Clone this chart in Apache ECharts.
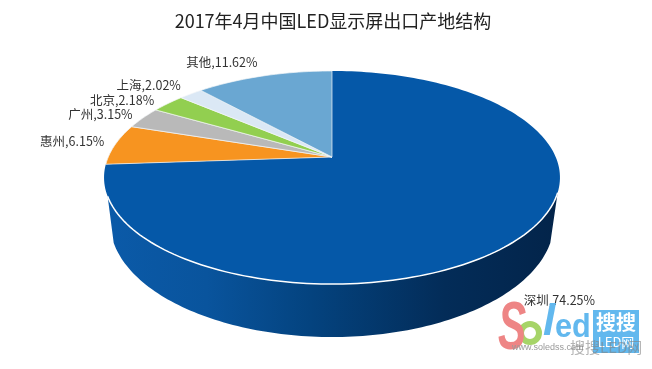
<!DOCTYPE html>
<html>
<head>
<meta charset="utf-8">
<style>html,body{margin:0;padding:0;background:#fff}#c{width:652px;height:369px}</style>
<script src="https://cdn.jsdelivr.net/npm/echarts@6/dist/echarts.min.js"></script>
</head>
<body>
<div id="c"></div>
<script>
// Data, clockwise from twelve o'clock
const categories = ['深圳', '惠州', '广州', '北京', '上海', '其他'];
const shares = [74.25, 6.15, 3.15, 2.18, 2.02, 11.62];
const sliceColors = ['#0558a8', '#f79420', '#b9b9b9', '#92cf50', '#dbe8f5', '#6aa7d2'];
const titleText = '2017年4月中国LED显示屏出口产地结构';

// Label boxes relative to each slice's mid-rim point
const labelShift = [[43, 60], [-43, -3], [-42, -4], [-47, -3], [-42, -9], [-42, -14]];

const FONT = '"Noto Sans CJK SC", "Noto Sans", sans-serif';
const total = shares.reduce((a, b) => a + b, 0);
const apex = [332, 157];
const A = 223.7, B = 102.6, K = 0.1925;
const wallFrom = 109, wallTo = 251;
const lower = { x: 332, y: 222, rx: 222, ry: 115, a: 100.5 };

function sstep(a, b, x) { const t = Math.min(1, Math.max(0, (x - a) / (b - a))); return t * t * (3 - 2 * t); }
// clockwise degrees from top -> projected point on the tilted disc
function rim(deg) {
  let d = deg;
  const ccw = 360 - deg;
  if (ccw > 0 && ccw < 180) {
    d = deg - 3 * sstep(50, 60, ccw) * (1 - sstep(95, 130, ccw));
  }
  const r = d * Math.PI / 180;
  const u = Math.sin(r), v = -Math.cos(r), w = 1 - K * v;
  return [apex[0] + A * u / w, apex[1] + B * v / w];
}
function arc(from, to) {
  const pts = [], n = Math.max(2, Math.ceil(Math.abs(to - from) / 1.5));
  for (let i = 0; i <= n; i++) pts.push(rim(from + (to - from) * i / n));
  return pts;
}
const starts = [];
shares.reduce((acc, s, i) => { starts[i] = acc; return acc + s / total * 360; }, 0);

function renderItem(params, api) {
  const i = params.dataIndex;
  const from = starts[i], to = from + api.value(0) / total * 360;
  const children = [];
  if (i === 0) {
    const wf = Math.max(from, wallFrom), wt = Math.min(to, wallTo);
    const top = arc(wf, wt);
    const bottom = [];
    for (let k = 0; k <= 120; k++) {
      const a = (lower.a + (360 - 2 * lower.a) * k / 120) * Math.PI / 180;
      bottom.push([lower.x + lower.rx * Math.sin(a), lower.y - lower.ry * Math.cos(a)]);
    }
    children.push({
      type: 'polygon',
      shape: { points: top.concat(bottom.reverse()) },
      style: {
        fill: new echarts.graphic.LinearGradient(0, 0, 1, 0, [
          { offset: 0, color: '#0b5aa8' }, { offset: 0.22, color: '#09549d' },
          { offset: 0.45, color: '#04437f' }, { offset: 0.75, color: '#032c58' },
          { offset: 1, color: '#03244a' }
        ]),
        stroke: null
      }
    });
  }
  children.push({
    type: 'polygon',
    shape: { points: [apex].concat(arc(from, to)) },
    style: { fill: api.visual('color'), stroke: i === 0 ? null : '#f4f6f8', lineWidth: i === 0 ? 0 : 0.7 }
  });
  if (i === 0) {
    children.push({
      type: 'polyline',
      shape: { points: arc(wallFrom, wallTo) },
      style: { fill: null, stroke: '#fff', lineWidth: 1.5 }
    });
  }
  const mid = rim((from + to) / 2);
  children.push({
    type: 'text',
    x: mid[0] + labelShift[i][0],
    y: mid[1] + labelShift[i][1],
    style: {
      text: categories[i] + ',' + api.value(0).toFixed(2) + '%',
      fill: '#333', font: '12.5px ' + FONT, align: 'center', verticalAlign: 'middle'
    }
  });
  return { type: 'group', children };
}

const chart = echarts.init(document.getElementById('c'), null, { renderer: 'canvas' });
chart.setOption({
  animation: false,
  backgroundColor: '#fff',
  title: {
    text: titleText, left: 328, top: 7, textAlign: 'center',
    textStyle: { fontFamily: FONT, fontSize: 18, fontWeight: 'normal', color: '#222' }
  },
  series: [{
    type: 'custom',
    coordinateSystem: 'none',
    renderItem,
    data: shares.map((v, i) => ({ value: [v], name: categories[i], itemStyle: { color: sliceColors[i] } }))
  }],
  graphic: { elements: [
    { type: 'text', x: 498, y: 296, scaleX: 0.62, z: 10, style: { text: 'S', font: 'italic bold 68px "Liberation Sans"', fill: '#ee8585' } },
    { type: 'circle', z: 9, shape: { cx: 530, cy: 333, r: 9 }, style: { fill: '#fff', stroke: '#a6d468', lineWidth: 6 } },
    { type: 'text', x: 543, y: 301, z: 10, style: { text: 'l', font: 'italic bold 44px "Liberation Sans"', fill: '#62b8ee' } },
    { type: 'text', x: 555, y: 311, scaleX: 0.9, z: 10, style: { text: 'ed', font: 'bold 34px "Liberation Sans"', fill: '#62b8ee' } },
    { type: 'rect', z: 10, shape: { x: 593, y: 310, width: 46, height: 43 }, style: { fill: '#62b8ee' } },
    { type: 'text', x: 616, y: 322, z: 11, style: { text: '搜搜', font: 'bold 20px ' + FONT, fill: '#fff', align: 'center', verticalAlign: 'middle' } },
    { type: 'text', x: 616, y: 342, z: 11, style: { text: 'LED网', font: '13px ' + FONT, fill: '#fff', align: 'center', verticalAlign: 'middle' } },
    { type: 'text', x: 512, y: 348, z: 12, style: { text: 'www.soledss.com', font: '9px "Liberation Sans"', fill: '#999', verticalAlign: 'middle' } },
    { type: 'text', x: 570, y: 347, z: 12, style: { text: '搜搜LED网', font: '15px ' + FONT, fill: 'rgba(130,130,130,0.6)', verticalAlign: 'middle' } }
  ] }
});
</script>
</body>
</html>
